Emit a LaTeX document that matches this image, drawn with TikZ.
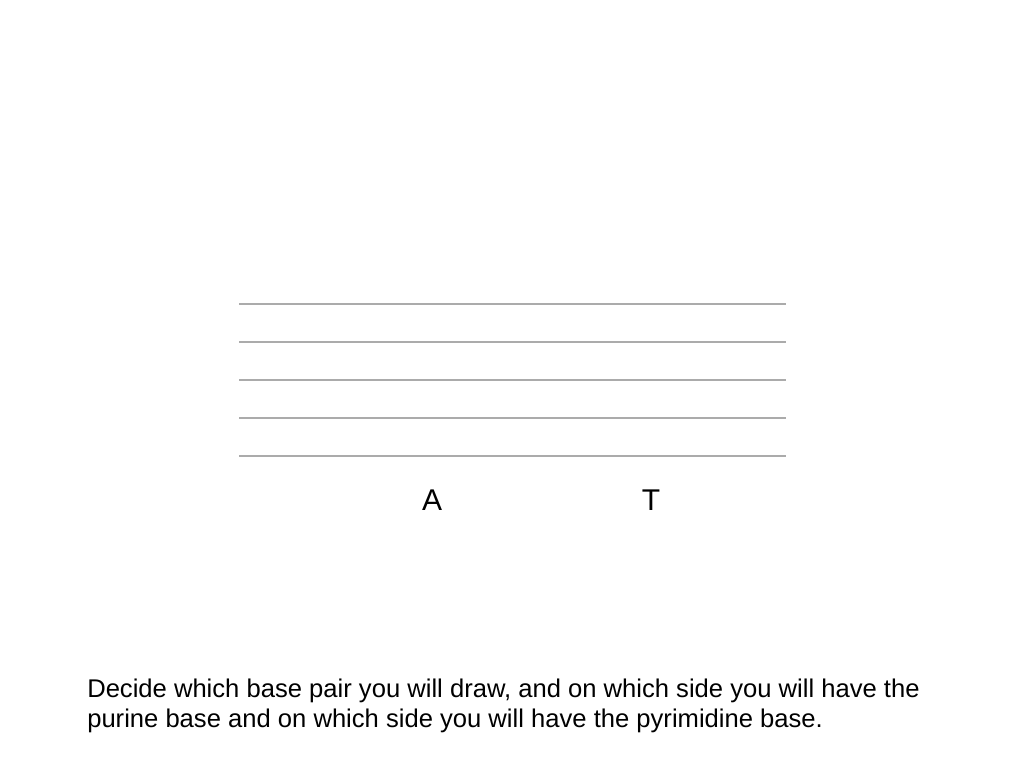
\documentclass[tikz,border=0pt]{standalone}
\usepackage{fontspec}
\setmainfont{Liberation Sans}
\begin{document}
\begin{tikzpicture}[x=0.75pt,y=-0.75pt,
  rule/.style={draw=black!33,line width=1.5pt},
  base/.style={font=\fontsize{22.5pt}{27pt}\selectfont,anchor=base,inner sep=0pt},
  caption/.style={font=\fontsize{19.2pt}{22.5pt}\selectfont,anchor=base west,align=left,inner sep=0pt}]
\useasboundingbox[fill=white] (0,0) rectangle (1024,768);
\foreach \i/\y in {1/304,2/342,3/380,4/418,5/456} {
  \coordinate (l\i) at (239,\y);
  \coordinate (r\i) at (786,\y);
  \draw[rule] (l\i) -- (r\i);
}
\node[base] (A) at (432,510) {A};
\node[base] (T) at (651,510) {T};
\node[caption] (cap) at (87,727) {Decide which base pair you will draw, and on which side you will have the\\purine base and on which side you will have the pyrimidine base.};
\end{tikzpicture}
\end{document}
